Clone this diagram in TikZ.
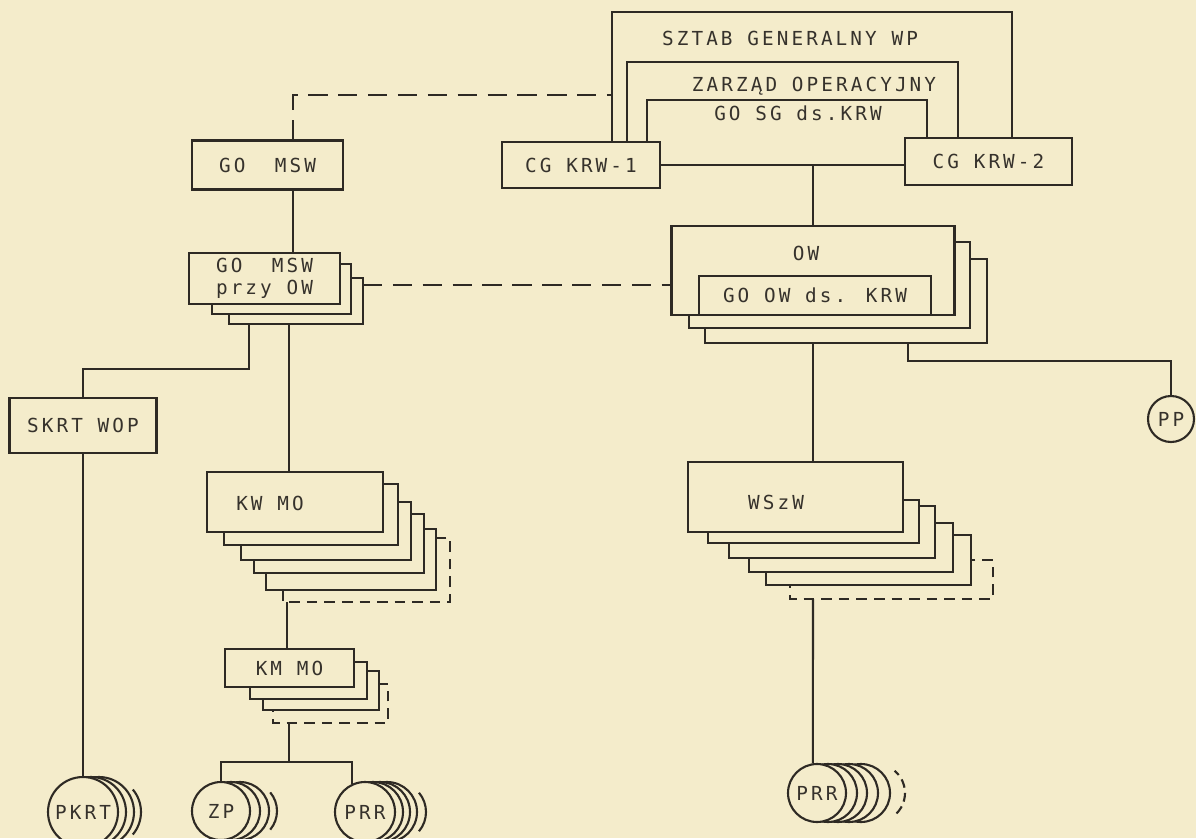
\documentclass[tikz,border=0pt]{standalone}
\usepackage{fontspec}
\setmainfont{DejaVu Sans Mono}[LetterSpace=16]
\usetikzlibrary{positioning}
\definecolor{paper}{RGB}{244,236,203}
\definecolor{ink}{RGB}{46,42,36}
\definecolor{typeink}{RGB}{54,50,44}

\tikzset{
  box/.style={draw=ink, fill=paper, line width=1.2pt, inner sep=0pt, text=typeink,
              font=\fontsize{11}{12.5}\selectfont, align=center},
  sheet/.style={draw=ink, fill=paper, line width=1.2pt},
  lastsheet/.style={draw=ink, fill=paper, line width=1.1pt, dash pattern=on 6pt off 4pt},
  wire/.style={draw=ink, line width=1.2pt},
  link/.style={draw=ink, line width=1.2pt, dash pattern=on 11pt off 6pt},
  disc/.style={circle, draw=ink, fill=paper, line width=1.2pt, inner sep=0pt, text=typeink,
               font=\fontsize{11}{12.5}\selectfont},
  caption/.style={text=typeink, font=\fontsize{11}{12.5}\selectfont, inner sep=0pt},
}

\begin{document}
\begin{tikzpicture}[x=0.02cm, y=-0.02cm]
  \useasboundingbox (0,0) rectangle (1196,838);
  \fill[paper] (0,0) rectangle (1196,838);

  % Command posts
  \node[box, minimum width=3.16cm, minimum height=0.92cm] (cgA) at (581,165) {CG KRW-1};
  \node[box, minimum width=3.34cm, minimum height=0.94cm] (cgB) at (988.5,161.5) {CG KRW-2};
  \draw[wire] (cgA.east) -- (cgB.west |- cgA.east);

  % General staff frames
  \draw[wire] (cgA.north -| 612,0) |- (1012,12) -- (cgB.north -| 1012,0);
  \draw[wire] (cgA.north -| 627,0) |- (958,62) -- (cgB.north -| 958,0);
  \draw[wire] (cgA.north -| 647,0) |- (927,100) -- (cgB.north -| 927,0);
  \node[caption] (sgwp) at (790,38) {SZTAB GENERALNY WP};
  \node[caption] (zop) at (814,86) {ZARZĄD OPERACYJNY};
  \node[caption] (gosg) at (798,113) {GO SG ds.KRW};
  \coordinate (sgwpSide) at (612,95);

  % MSW column
  \node[box, minimum width=3.02cm, minimum height=0.98cm] (gomsw) at (267.5,165) {GO~~MSW};
  \draw[link] (gomsw.north -| 293,0) |- (sgwpSide);

  \draw[sheet] (229,278) rectangle (363,324) coordinate (owmswBase);
  \draw[sheet] (212,264) rectangle (351,314);
  \node[box, minimum width=3.02cm, minimum height=1.02cm] (owmsw) at (264.5,278.5) {GO~~MSW\\przy~OW};
  \draw[wire] (gomsw.south -| 293,0) -- (owmsw.north -| 293,0);

  \node[box, minimum width=2.94cm, minimum height=1.1cm] (skrt) at (83,425.5) {SKRT WOP};
  \draw[wire] (owmswBase -| 249,0) |- (83,369) -- (skrt.north);

  % KW MO stack
  \draw[lastsheet] (283,538) rectangle (450,602) coordinate (kwmoBase);
  \draw[sheet] (266,529) rectangle (436,590);
  \draw[sheet] (254,514) rectangle (424,573);
  \draw[sheet] (241,502) rectangle (411,560);
  \draw[sheet] (224,484) rectangle (398,545);
  \node[box, minimum width=3.52cm, minimum height=1.2cm] (kwmo) at (295,502) {};
  \node[caption] (kwmoName) at (270,503) {KW MO};
  \draw[wire] (owmswBase -| 289,0) -- (kwmo.north -| 289,0);

  % KM MO stack
  \draw[lastsheet] (273,684) rectangle (388,723) coordinate (kmmoBase);
  \draw[sheet] (263,671) rectangle (379,710);
  \draw[sheet] (250,662) rectangle (367,699);
  \node[box, minimum width=2.58cm, minimum height=0.76cm] (kmmo) at (289.5,668) {KM MO};
  \draw[wire] (kwmoBase -| 287,0) -- (kmmo.north -| 287,0);

  % OW stack
  \draw[sheet] (705,259) rectangle (987,343) coordinate (owBase);
  \draw[sheet] (689,242) rectangle (970,328);
  \node[box, minimum width=5.66cm, minimum height=1.78cm] (ow) at (813,270.5) {};
  \node[caption] (owName) at (806,253) {OW};
  \node[box, minimum width=4.64cm, minimum height=0.78cm] (goow) at (815,295.5) {GO OW ds. KRW};
  \draw[wire] (cgA.east -| ow.north) -- (ow.north);
  \draw[link] (owmswBase |- 0,285) -- (ow.west |- 0,285);

  % WSzW stack
  \draw[lastsheet] (790,560) rectangle (993,599) coordinate (wszwBase);
  \draw[sheet] (766,535) rectangle (971,585);
  \draw[sheet] (749,523) rectangle (953,572);
  \draw[sheet] (729,506) rectangle (935,558);
  \draw[sheet] (708,500) rectangle (919,543);
  \node[box, minimum width=4.3cm, minimum height=1.4cm] (wszw) at (795.5,497) {};
  \node[caption] (wszwName) at (776,502) {WSzW};
  \draw[wire] (owBase -| ow.south) -- (wszw.north -| ow.south);

  % Posts (discs)
  \draw[sheet] (99,812) circle (0.7cm);
  \draw[sheet] (91,812) circle (0.7cm);
  \draw[wire] (106,812) ++(-40:0.7cm) arc[start angle=-40, end angle=40, radius=0.7cm];
  \node[disc, minimum size=1.4cm] (pkrt) at (83,812) {PKRT};
  \draw[wire] (skrt.south) -- (pkrt.north);

  \draw[sheet] (240,811) circle (0.58cm);
  \draw[sheet] (231,811) circle (0.58cm);
  \draw[wire] (248,811) ++(-40:0.58cm) arc[start angle=-40, end angle=40, radius=0.58cm];
  \node[disc, minimum size=1.16cm] (zp) at (221,811) {ZP};

  \draw[sheet] (387,812) circle (0.6cm);
  \draw[sheet] (380,812) circle (0.6cm);
  \draw[sheet] (373,812) circle (0.6cm);
  \draw[wire] (396,812) ++(-40:0.6cm) arc[start angle=-40, end angle=40, radius=0.6cm];
  \node[disc, minimum size=1.2cm] (prrA) at (365,812) {PRR};

  \draw[wire] (kmmoBase -| 289,0) -- (289,762) coordinate (fork);
  \draw[wire] (zp.north) |- (fork) -| (prrA.114);

  \draw[sheet] (861,793) circle (0.58cm);
  \draw[sheet] (849,793) circle (0.58cm);
  \draw[sheet] (838,793) circle (0.58cm);
  \draw[sheet] (828,793) circle (0.58cm);
  \draw[wire, dash pattern=on 5pt off 3pt] (876,793) ++(-45:0.58cm) arc[start angle=-45, end angle=50, radius=0.58cm];
  \node[disc, minimum size=1.16cm] (prrB) at (817,793) {PRR};
  \draw[wire] (wszwBase -| 813,0) -- (prrB.98);

  \node[disc, minimum size=0.92cm] (pp) at (1171,419) {PP};
  \draw[wire] (owBase -| 908,0) |- (pp.north |- 0,361) -- (pp.north);
\end{tikzpicture}
\end{document}
